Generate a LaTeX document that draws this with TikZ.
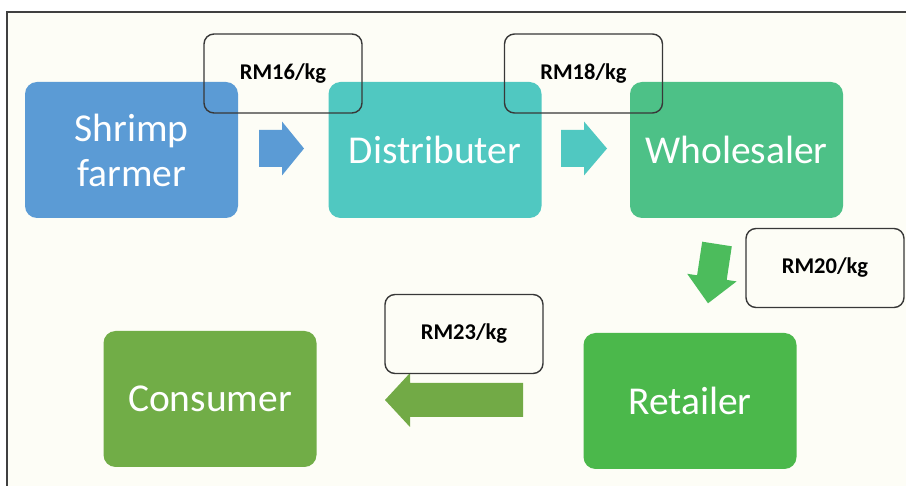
\documentclass[tikz,border=0pt]{standalone}
\usepackage{fontspec}
\setmainfont{Carlito}
\definecolor{farmerblue}{HTML}{5B9BD5}
\definecolor{distteal}{HTML}{50C8C1}
\definecolor{wholegreen}{HTML}{4DC187}
\definecolor{retailgreen}{HTML}{4BB84B}
\definecolor{consumergreen}{HTML}{71AD47}
\definecolor{downgreen}{HTML}{4CBC5C}
\definecolor{leftgreen}{HTML}{72AA46}
\definecolor{paper}{HTML}{FDFDF6}
\tikzset{
  stage/.style={rounded corners=12pt,minimum width=213pt,minimum height=136pt,
    text=white,align=center,font=\fontsize{39.5}{45}\selectfont,inner sep=0pt},
  price/.style={draw=black!78,line width=1.4pt,rounded corners=10pt,minimum width=158pt,
    minimum height=79pt,font=\fontsize{22.5}{26}\selectfont\bfseries,inner sep=0pt}
}
\begin{document}
\begin{tikzpicture}[x=1pt,y=-1pt]
	\useasboundingbox (0,0) rectangle (906,486);
	\fill[white] (0,0) rectangle (906,486);
	\fill[paper] (7,12) rectangle (906,486);
	\draw[line width=1.3pt,color=black!75] (7,486) -- (7,12) -- (906,12);
	% stages
	\node[stage,fill=farmerblue] (farmer) at (131.5,150) {Shrimp\\farmer};
	\node[stage,fill=distteal] (distributer) at (435,150) {Distributer};
	\node[stage,fill=wholegreen] (wholesaler) at (736.5,150) {Wholesaler};
	\node[stage,fill=retailgreen] (retailer) at (690,401) {Retailer};
	\node[stage,fill=consumergreen] (consumer) at (210,399) {Consumer};
	% block arrows
	\fill[farmerblue] (259,130) -- (282,130) -- (282,121.5) -- (304,148.5) -- (282,175.5) -- (282,167) -- (259,167) -- cycle;
	\fill[distteal] (561,130) -- (584,130) -- (584,121.5) -- (607,148.5) -- (584,175.5) -- (584,167) -- (561,167) -- cycle;
	\fill[downgreen] (702.2,241.7) -- (731.8,246.3) -- (726.7,279.9) -- (736.6,281.4) -- (708,303.3) -- (687.2,273.8) -- (697.1,275.3) -- cycle;
	\fill[leftgreen] (523,383) -- (410,383) -- (410,373) -- (385,400) -- (410,427) -- (410,417) -- (523,417) -- cycle;
	% prices
	\node[price] (p16) at (283,73.5) {RM16/kg};
	\node[price] (p18) at (583.5,73.5) {RM18/kg};
	\node[price] (p20) at (825,268) {RM20/kg};
	\node[price] (p23) at (464,334) {RM23/kg};
\end{tikzpicture}
\end{document}
